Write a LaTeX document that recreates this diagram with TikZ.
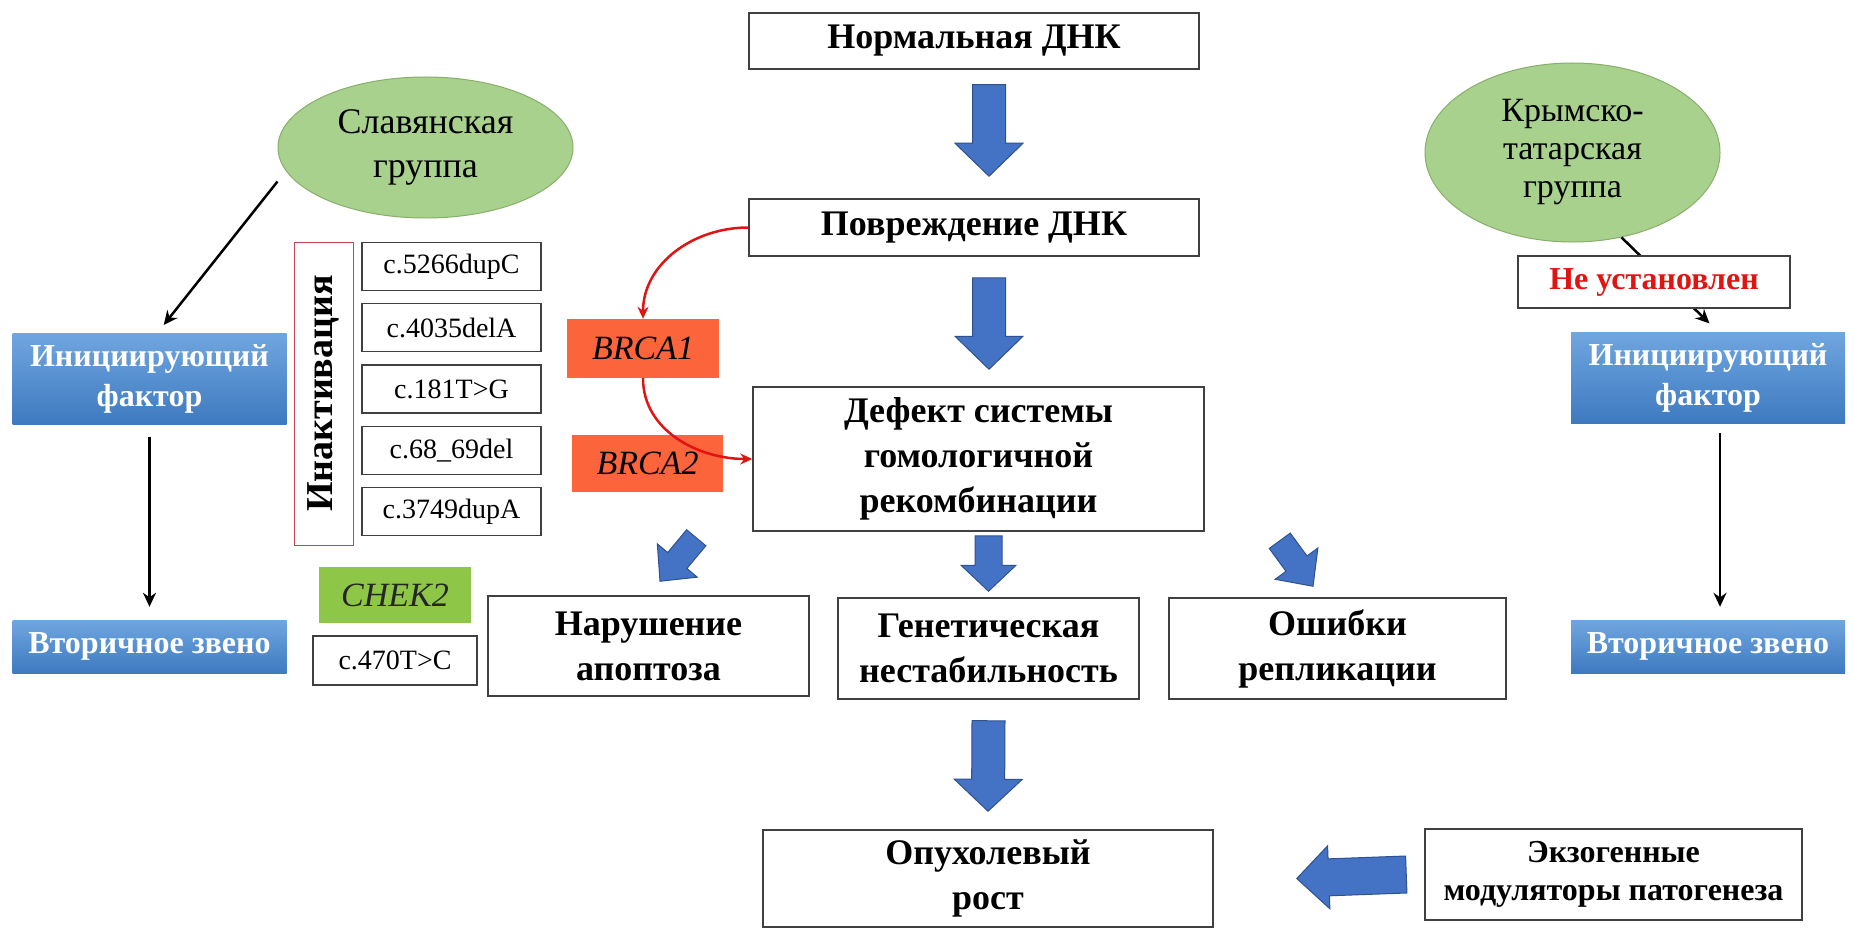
\documentclass[tikz,border=0pt]{standalone}
\usepackage{fontspec}
\setmainfont{Liberation Serif}
\usetikzlibrary{shapes.geometric,arrows.meta,positioning,calc}

\definecolor{grpgreen}{RGB}{169,209,142}
\definecolor{grpedge}{RGB}{135,175,105}
\definecolor{facttop}{RGB}{112,166,224}
\definecolor{factbot}{RGB}{62,122,192}
\definecolor{flowblue}{RGB}{68,114,196}
\definecolor{flowedge}{RGB}{47,82,143}
\definecolor{brcared}{RGB}{252,101,60}
\definecolor{chekgreen}{RGB}{142,198,72}
\definecolor{inactred}{RGB}{200,70,80}
\definecolor{linkred}{RGB}{225,20,20}

% wide flow arrow: start, tip, half shaft, half head, head length
\newcommand{\blockarrow}[5]{%
  \coordinate (neck) at ($(#2)!#5!(#1)$);
  \filldraw[barrow] ($(#1)!#3!90:(#2)$) -- ($(neck)!#3!90:(#2)$)
    -- ($(neck)!#4!90:(#2)$) -- (#2) -- ($(neck)!#4!-90:(#2)$)
    -- ($(neck)!#3!-90:(#2)$) -- ($(#1)!#3!-90:(#2)$) -- cycle;
}

\begin{document}
\begin{tikzpicture}[x=1pt, y=-1pt,
    box/.style={rectangle, draw=black!75, line width=1.5pt, fill=white, align=center,
                inner sep=0pt, font=\bfseries\fontsize{36}{45}\selectfont},
    factor/.style={rectangle, top color=facttop, bottom color=factbot, text=white,
                   align=center, inner sep=0pt, minimum width=274pt,
                   font=\bfseries\fontsize{32}{40}\selectfont},
    group/.style={ellipse, draw=grpedge, line width=1pt, fill=grpgreen, align=center,
                  inner sep=0pt, minimum width=295pt, font=\fontsize{36}{44}\selectfont},
    mutation/.style={rectangle, draw=black!75, line width=1.2pt, fill=white,
                     minimum width=179pt, minimum height=48pt, inner sep=0pt,
                     font=\fontsize{28}{32}\selectfont},
    gene/.style={rectangle, inner sep=0pt, font=\itshape\fontsize{34}{40}\selectfont},
    arrow/.style={-{Stealth[length=14pt,width=13pt]}, line width=2.5pt, black},
    redarrow/.style={-{Stealth[length=12pt,width=11pt]}, line width=2.5pt, linkred},
    barrow/.style={fill=flowblue, draw=flowedge, line width=1pt}
]
\useasboundingbox (0,0) rectangle (1854,928);
\fill[white] (0,0) rectangle (1854,928);

% Main chain
\node[box, minimum width=450pt, minimum height=56pt] (norm) at (974,41) {Нормальная ДНК};
\node[box, minimum width=450pt, minimum height=57pt] (dmg) at (974,227.5) {Повреждение ДНК};
\node[box, minimum width=451pt, minimum height=144pt] (defect) at (978.5,459)
    {Дефект системы\\гомологичной\\рекомбинации};
\node[box, minimum width=321pt, minimum height=100pt] (apo) at (648.5,646) {Нарушение\\апоптоза};
\node[box, minimum width=301pt, minimum height=101pt] (gen) at (988.5,648.5) {Генетическая\\нестабильность};
\node[box, minimum width=337pt, minimum height=101pt] (err) at (1337.5,648.5) {Ошибки\\репликации};
\node[box, minimum width=450pt, minimum height=97pt] (tumor) at (988,878.5) {Опухолевый\\рост};
\node[box, minimum width=377pt, minimum height=91pt, font=\bfseries\fontsize{32}{38}\selectfont]
    (exo) at (1613.5,874.5) {Экзогенные\\модуляторы патогенеза};

% Flow arrows
\coordinate (a1s) at ([xshift=15pt,yshift=-15pt]norm.south);
\coordinate (a1e) at ([xshift=15pt,yshift=22pt]dmg.north);
\blockarrow{a1s}{a1e}{16.5pt}{34pt}{33pt}
\coordinate (a2s) at ([xshift=15pt,yshift=-21pt]dmg.south);
\coordinate (a2e) at ([xshift=10.5pt,yshift=17pt]defect.north);
\blockarrow{a2s}{a2e}{16.5pt}{34pt}{33pt}
\coordinate (a3s) at ([xshift=10pt,yshift=-4pt]defect.south);
\coordinate (a3e) at ([yshift=6pt]gen.north);
\blockarrow{a3s}{a3e}{13.5pt}{27.5pt}{26pt}
\coordinate (a4s) at ([xshift=-56pt,yshift=-6pt]defect.south west);
\coordinate (a4e) at ([xshift=11.5pt,yshift=14pt]apo.north);
\blockarrow{a4s}{a4e}{12.5pt}{26pt}{27pt}
\coordinate (a5s) at ([xshift=75pt,yshift=-9pt]defect.south east);
\coordinate (a5e) at ([xshift=-24.5pt,yshift=11pt]err.north);
\blockarrow{a5s}{a5e}{13pt}{26.5pt}{28pt}
\coordinate (a6s) at ([yshift=-21pt]gen.south);
\coordinate (a6e) at ([yshift=18pt]tumor.north);
\blockarrow{a6s}{a6e}{16.5pt}{34pt}{32pt}
\coordinate (a7s) at ([xshift=-18pt]exo.west);
\coordinate (a7e) at ([xshift=83pt]tumor.east);
\blockarrow{a7s}{a7e}{18.5pt}{31.5pt}{32pt}

% Slavic group
\node[group, minimum height=141pt] (slav) at (425.5,147.5) {Славянская\\группа};
\node[factor, minimum height=91pt] (initL) at (149.5,378.5) {Инициирующий\\фактор};
\node[factor, minimum height=53pt] (vtorL) at (149.5,646.5) {Вторичное звено};
\draw[arrow, shorten >=10pt] ([yshift=-34pt]slav.west) -- ([xshift=8pt]initL.north);
\draw[arrow, shorten <=13pt, shorten >=13pt] (initL) -- (vtorL);

% Mutations
\node[rectangle, draw=inactred, line width=1pt, rotate=90, minimum width=303pt,
      minimum height=59pt, inner sep=0pt, font=\bfseries\fontsize{38}{40}\selectfont]
    (inact) at (323.5,393.5) {Инактивация};
\foreach \lbl [count=\i] in {c.5266dupC, c.4035delA, c.181T>G, c.68\_69del, c.3749dupA}
    \node[mutation] (mut\i) at (451.5,{266.5+61.25*(\i-1)}) {\lbl};
\node[gene, fill=chekgreen, text=black!85, minimum width=152pt, minimum height=56pt]
    (chek2) at (395,595) {CHEK2};
\node[mutation, minimum width=164pt, minimum height=49pt] (mut470) at (395,660.5) {c.470T>C};

% Genes
\node[gene, fill=brcared, minimum width=152pt, minimum height=59pt] (brca1) at (643,348.5) {BRCA1};
\node[gene, fill=brcared, minimum width=151pt, minimum height=57pt] (brca2) at (647.5,463.5) {BRCA2};
\draw[redarrow] (dmg.west) .. controls +(-55,0) and +(0,-55) .. (brca1.north);
\draw[redarrow] (brca1.south) .. controls +(0,53) and +(-53,0) .. (defect.west);

% Crimean Tatar group
\node[group, minimum height=179pt, font=\fontsize{34}{38}\selectfont] (crim) at (1572.5,152.5)
    {Крымско-\\татарская\\группа};
\node[factor, minimum height=91pt] (initR) at (1708,377.5) {Инициирующий\\фактор};
\node[factor, minimum height=53pt] (vtorR) at (1708,646.5) {Вторичное звено};
\draw[arrow, shorten >=12pt] (crim.300) -- ([xshift=10pt]initR.north);
\node[box, minimum width=272pt, minimum height=52pt, text=linkred,
      font=\bfseries\fontsize{32}{38}\selectfont] (unset) at (1654,282) {Не установлен};
\draw[arrow, shorten <=10pt, shorten >=13pt] ([xshift=12pt]initR.south) -- ([xshift=12pt]vtorR.north);

\end{tikzpicture}
\end{document}
